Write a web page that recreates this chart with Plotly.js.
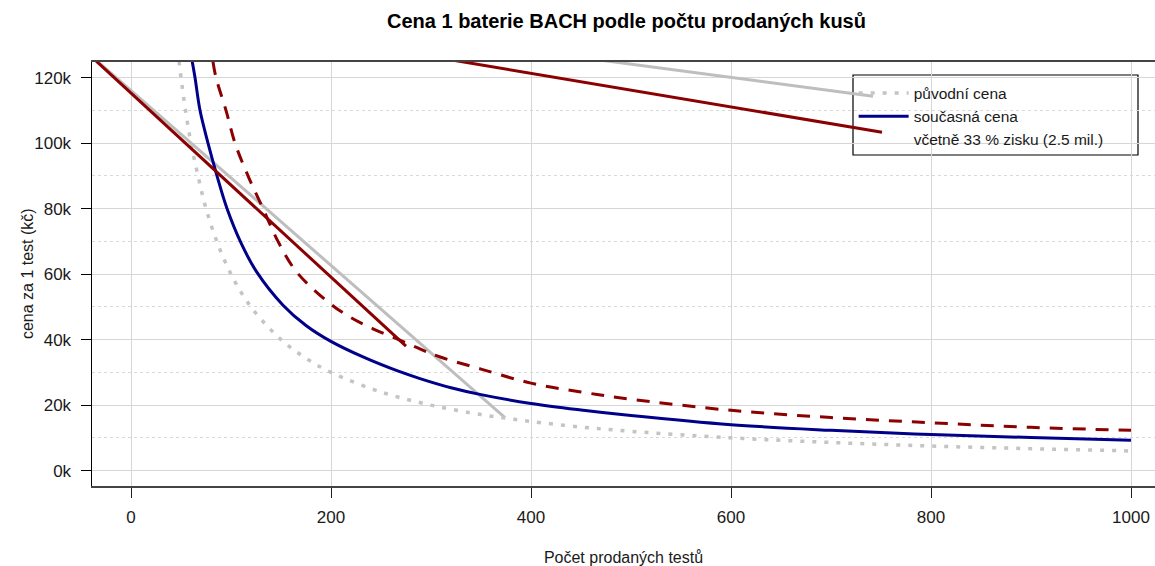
<!DOCTYPE html>
<html>
<head>
<meta charset="utf-8">
<script src="https://cdn.plot.ly/plotly-3.0.1.min.js"></script>
<style>html,body{margin:0;padding:0;background:#fff;}#chart{width:1155px;height:566px;}</style>
</head>
<body>
<div id="chart"></div>
<script>
// původní cena (gray dotted curve)
const nPuvodni = [48, 50, 55, 60, 67, 75, 87, 100, 112, 125, 150, 175, 200, 250, 300, 350, 375, 400, 450, 500, 600, 700, 800, 900, 1000];
const cenaPuvodni = [125000, 120000, 109000, 100000, 90000, 80000, 69000, 60000, 53500, 48000, 40000, 34300, 30000, 24000, 20000, 17100, 16000, 15000, 13300, 12000, 10000, 8600, 7500, 6700, 6000];

// současná cena (blue solid curve)
const nSoucasna = [61, 64, 69, 77, 86, 96, 110, 126, 152, 175, 199, 232, 266, 289, 320, 350, 400, 450, 500, 600, 700, 800, 900, 1000];
const cenaSoucasna = [125300, 120000, 110000, 100000, 90000, 80000, 69500, 60500, 50500, 44300, 39600, 34700, 30500, 28100, 25300, 23200, 20500, 18500, 16800, 14000, 12300, 11000, 10100, 9250];

// včetně 33 % zisku (dark red dashed curve)
const nZisk = [82, 85, 95, 104, 117, 132, 147, 166, 199, 220, 242, 266, 290, 310, 350, 400, 450, 500, 600, 700, 800, 900, 1000];
const cenaZisk = [124800, 120000, 110000, 100000, 90000, 80000, 70000, 60500, 51000, 46700, 43300, 40200, 37000, 34600, 31000, 26700, 24000, 21800, 18400, 16200, 14600, 13200, 12300];

// straight lines
const nLinPuvodni = [-40, 374];
const cenaLinPuvodni = [126700, 16200];
const nLinPuvodni2 = [470, 742];
const cenaLinPuvodni2 = [125300, 114300];
const nLinZisk = [-40, 275];
const cenaLinZisk = [126500, 38000];
const nLinZisk2 = [320, 751];
const cenaLinZisk2 = [125400, 103300];

const legendNames = ['původní cena', 'současná cena', 'včetně 33 % zisku (2.5 mil.)'];
const yTickVals = [0, 20000, 40000, 60000, 80000, 100000, 120000];
const yTickText = ['0k', '20k', '40k', '60k', '80k', '100k', '120k'];
const yMinorVals = [10000, 30000, 50000, 70000, 90000, 110000];
const xTickVals = [0, 200, 400, 600, 800, 1000];

const GRAY = '#bebebe', BLUE = '#00008b', RED = '#8b0000';
const font = 'Liberation Sans, Arial, sans-serif';

const traces = [
  {x: nLinPuvodni, y: cenaLinPuvodni, mode: 'lines', line: {color: GRAY, width: 3}, showlegend: false},
  {x: nLinPuvodni2, y: cenaLinPuvodni2, mode: 'lines', line: {color: GRAY, width: 3}, showlegend: false},
  {x: nPuvodni, y: cenaPuvodni, mode: 'lines', line: {color: '#c4c4c4', width: 3.5, dash: '4px,8px', shape: 'spline'}, name: legendNames[0]},
  {x: nSoucasna, y: cenaSoucasna, mode: 'lines', line: {color: BLUE, width: 3, shape: 'spline'}, name: legendNames[1]},
  {x: nZisk, y: cenaZisk, mode: 'lines', line: {color: RED, width: 3, dash: '13px,10px', shape: 'spline'}, showlegend: false},
  {x: nLinZisk, y: cenaLinZisk, mode: 'lines', line: {color: RED, width: 3}, showlegend: false},
  {x: nLinZisk2, y: cenaLinZisk2, mode: 'lines', line: {color: RED, width: 3}, showlegend: false},
  {x: [null], y: [null], mode: 'lines', line: {color: RED, width: 0}, name: legendNames[2], hoverinfo: 'skip'}
];

const layout = {
  width: 1155, height: 566,
  margin: {l: 92, r: 0, t: 62, b: 80},
  paper_bgcolor: '#fff', plot_bgcolor: '#fff',
  font: {family: font, size: 16, color: '#1a1a1a'},
  title: {text: '<b>Cena 1 baterie BACH podle počtu prodaných kusů</b>', font: {family: font, size: 20, color: '#000'}, x: 0.5424, xanchor: 'center', y: 0.963, yanchor: 'middle'},
  xaxis: {
    range: [-39, 1024], tickvals: xTickVals, showgrid: true, gridcolor: '#d6d6d6', gridwidth: 1,
    zeroline: false, showline: true, linecolor: '#444', linewidth: 2, mirror: true,
    ticks: 'outside', ticklen: 10, tickcolor: '#222', tickwidth: 1, ticklabelstandoff: 5,
    tickfont: {size: 17, color: '#1a1a1a'},
    title: {text: 'Počet prodaných testů', font: {size: 16, color: '#1a1a1a'}, standoff: 27}
  },
  yaxis: {
    range: [-4700, 124750], tickvals: yTickVals, ticktext: yTickText,
    showgrid: true, gridcolor: '#d6d6d6', gridwidth: 1, zeroline: false,
    showline: true, linecolor: '#000', linewidth: 1.5,
    ticks: 'outside', ticklen: 10, tickcolor: '#000', tickwidth: 1, ticklabelstandoff: 6,
    tickfont: {size: 17, color: '#1a1a1a'},
    minor: {tickvals: yMinorVals, showgrid: true, gridcolor: '#d9d9d9', griddash: 'dot', gridwidth: 1, ticks: ''}
  },
  annotations: [{
    text: 'cena za 1 test (kč)', xref: 'paper', yref: 'paper', x: -0.0611, y: 0.5,
    xanchor: 'center', yanchor: 'middle', textangle: -90, showarrow: false,
    font: {family: font, size: 16, color: '#1a1a1a'}
  }],
  shapes: [{
    type: 'rect', xref: 'paper', yref: 'paper', layer: 'between',
    x0: 0.7159, x1: 0.984, y0: 0.7807, y1: 0.9693,
    fillcolor: '#fff', line: {color: '#000', width: 1.2}
  }],
  legend: {
    x: 0.7165, y: 0.966, xanchor: 'left', yanchor: 'top',
    bgcolor: 'rgba(0,0,0,0)', borderwidth: 0,
    font: {size: 15.5, color: '#1a1a1a'}, itemwidth: 50, tracegroupgap: 0
  },
  showlegend: true
};

Plotly.newPlot('chart', traces, layout, {displayModeBar: false, staticPlot: true});
</script>
</body>
</html>
